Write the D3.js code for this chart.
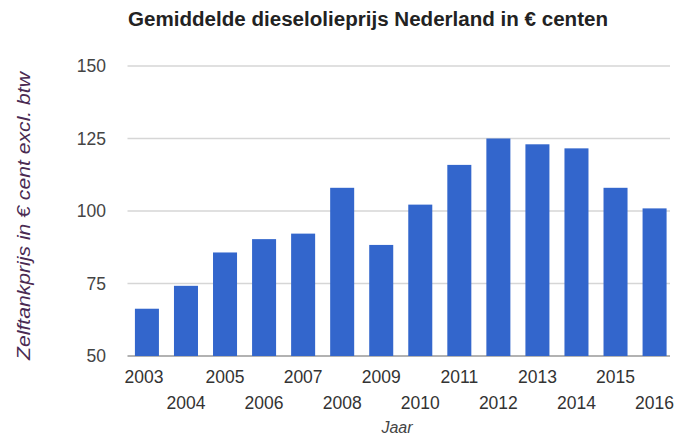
<!DOCTYPE html>
<html>
<head>
<meta charset="utf-8">
<script src="https://cdn.jsdelivr.net/npm/d3@7"></script>
<style>
  body { margin: 0; background: #fff; }
  svg { display: block; }
  text { font-family: "Liberation Sans", Arial, sans-serif; }
</style>
</head>
<body>
<svg id="chart" width="678" height="437"></svg>
<script>
// Gemiddelde dieselolieprijs per jaar (€ cent, excl. btw)
const years = ["2003","2004","2005","2006","2007","2008","2009","2010","2011","2012","2013","2014","2015","2016"];
const prices = [66.3, 74.2, 85.7, 90.3, 92.2, 108.0, 88.3, 102.2, 115.9, 125.0, 123.0, 121.6, 108.0, 100.9];
const yTicks = [50, 75, 100, 125, 150];

const title = "Gemiddelde dieselolieprijs Nederland in € centen";
const yTitle = "Zelftankprijs in € cent excl. btw";
const xTitle = "Jaar";

const svg = d3.select("#chart");
const plot = { left: 127.5, right: 674, top: 66, bottom: 356 };

const x = d3.scaleBand()
  .domain(years)
  .range([plot.left, plot.right])
  .paddingInner(0.385)
  .paddingOuter(0.19);

const y = d3.scaleLinear()
  .domain([50, 150])
  .range([plot.bottom, plot.top]);

// horizontal gridlines
svg.append("g")
  .selectAll("line")
  .data(yTicks)
  .join("line")
  .attr("x1", plot.left)
  .attr("x2", plot.right - 4)
  .attr("y1", d => y(d))
  .attr("y2", d => y(d))
  .attr("stroke", d => d === 50 ? "#999" : "#d6d6d6")
  .attr("stroke-width", 1.5);

// y tick labels
svg.append("g")
  .selectAll("text")
  .data(yTicks)
  .join("text")
  .attr("x", 106)
  .attr("y", d => y(d))
  .attr("dy", "0.36em")
  .attr("text-anchor", "end")
  .attr("font-size", 17.5)
  .attr("fill", "#444")
  .text(d => d);

// bars
svg.append("g")
  .selectAll("rect")
  .data(years.map((yr, i) => ({ yr, v: prices[i] })))
  .join("rect")
  .attr("x", d => x(d.yr))
  .attr("width", x.bandwidth())
  .attr("y", d => y(d.v))
  .attr("height", d => y(50) - y(d.v))
  .attr("fill", "#3366cc");

// x tick labels, staggered over two rows
svg.append("g")
  .selectAll("text")
  .data(years)
  .join("text")
  .attr("x", (d, i) => x(d) + x.bandwidth() / 2 - (i === 0 ? 3 : 0))
  .attr("y", (d, i) => i % 2 === 0 ? 383 : 409)
  .attr("text-anchor", "middle")
  .attr("font-size", 17.5)
  .attr("fill", "#333")
  .text(d => d);

// chart title
svg.append("text")
  .attr("x", 128)
  .attr("y", 26)
  .attr("font-size", 19.5)
  .attr("font-weight", "bold")
  .attr("fill", "#222")
  .attr("textLength", 480)
  .attr("lengthAdjust", "spacingAndGlyphs")
  .text(title);

// axis titles
svg.append("text")
  .attr("x", 397)
  .attr("y", 433)
  .attr("text-anchor", "middle")
  .attr("font-size", 16)
  .attr("font-style", "italic")
  .attr("fill", "#444")
  .text(xTitle);

svg.append("text")
  .attr("transform", "translate(30,216) rotate(-90)")
  .attr("text-anchor", "middle")
  .attr("font-size", 18)
  .attr("font-style", "italic")
  .attr("fill", "#4a2a52")
  .attr("textLength", 288)
  .attr("lengthAdjust", "spacingAndGlyphs")
  .text(yTitle);
</script>
</body>
</html>
